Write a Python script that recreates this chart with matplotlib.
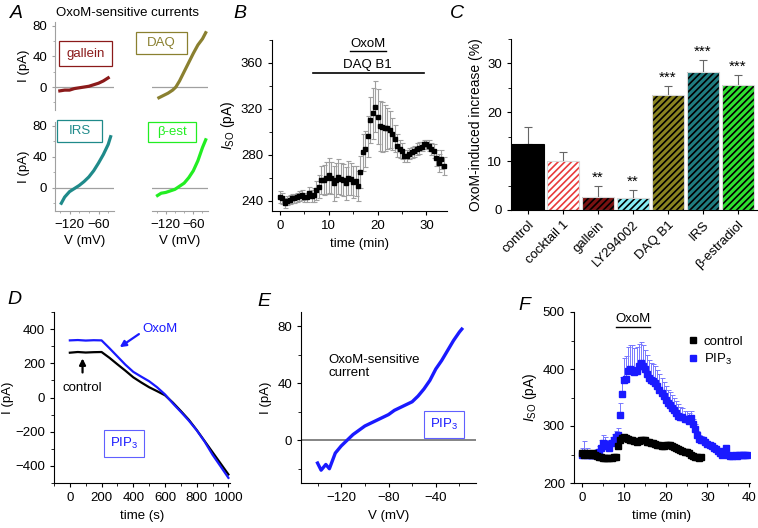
import numpy as np
import matplotlib
matplotlib.use('Agg')
import matplotlib.pyplot as plt
from matplotlib.ticker import MultipleLocator

plt.rcParams['font.family'] = ['Liberation Sans', 'DejaVu Sans']
plt.rcParams['mathtext.fontset'] = 'custom'
plt.rcParams['mathtext.rm'] = 'Liberation Sans'
plt.rcParams['mathtext.it'] = 'Liberation Sans:italic'
plt.rcParams['font.size'] = 9.5
plt.rcParams['axes.linewidth'] = 0.8
plt.rcParams['xtick.major.size'] = 3
plt.rcParams['ytick.major.size'] = 3
plt.rcParams['xtick.minor.size'] = 2
plt.rcParams['ytick.minor.size'] = 2
plt.rcParams['hatch.linewidth'] = 1.2

FS = 9.5

# ── panel A: OxoM-sensitive I-V traces ───────────────────────────────────────
GAL_V = [-140, -130, -120, -110, -100, -90, -80, -70, -60, -50, -40]
GAL_I = [-5, -4, -4, -2, -1, 0, 1, 3, 5, 8, 12]
DAQ_V = [-135, -125, -115, -105, -98, -90, -80, -70, -60, -50, -40, -33]
DAQ_I = [-14, -11, -8, -4, 0, 8, 20, 32, 44, 55, 63, 71]
IRS_V = [-137, -130, -120, -110, -100, -90, -80, -70, -60, -50, -40, -35]
IRS_I = [-20, -12, -5, -1, 3, 8, 14, 22, 32, 43, 56, 66]
BEST_V = [-138, -130, -120, -110, -100, -90, -80, -70, -60, -50, -40, -33]
BEST_I = [-10, -7, -6, -4, -2, 2, 6, 13, 22, 35, 52, 62]

# ── panel B: I_SO time course with DAQ B1 ────────────────────────────────────
B_T = [i * 0.5 for i in range(68)]
B_I = [243, 242, 238, 240, 241, 242, 242, 243, 244, 245, 243, 243, 247, 244, 245, 249,
       252, 258, 258, 260, 262, 260, 255, 258, 261, 259, 258, 255, 260, 259, 256, 257,
       253, 265, 282, 285, 296, 310, 316, 322, 313, 305, 304, 303, 303, 302, 298, 294,
       288, 285, 283, 279, 279, 281, 282, 283, 285, 286, 287, 289, 289, 288, 285, 283,
       277, 273, 276, 270]
B_ERR = [5, 5, 4, 4, 4, 4, 4, 4, 4, 4, 4, 4, 5, 5, 6, 8,
         10, 12, 13, 14, 15, 14, 15, 15, 15, 14, 14, 14, 15, 14, 14, 13,
         13, 14, 16, 16, 18, 20, 22, 22, 24, 22, 22, 20, 18, 16, 14, 12,
         10, 8, 7, 5, 5, 5, 5, 5, 5, 5, 4, 4, 4, 5, 5, 6,
         7, 8, 8, 8]

# ── panel C: OxoM-induced increase ───────────────────────────────────────────
C_LABELS = ['control', 'cocktail 1', 'gallein', 'LY294002', 'DAQ B1', 'IRS', 'β-estradiol']
C_MEAN = [13.5, 10.1, 2.6, 2.4, 23.5, 28.3, 25.5]
C_ERR = [3.4, 1.8, 2.4, 1.7, 1.9, 2.5, 2.2]
C_STARS = ['', '', '**', '**', '***', '***', '***']
C_FACE = ['black', 'white', '#7a1212', '#86eef6', '#8a8420', '#1f7c80', '#2fe02f']
C_HATCH = ['', '/////', '/////', '/////', '/////', '/////', '/////']
C_HCOL = ['black', '#e83a3a', 'black', 'black', 'black', 'black', 'black']

# ── panel D: ramp currents with PIP3 ─────────────────────────────────────────
D_T = [0, 50, 100, 150, 200, 250, 300, 350, 400, 450, 500, 550, 600, 650, 700,
       750, 800, 850, 900, 950, 1000]
D_CTRL = [262, 266, 263, 265, 266, 232, 194, 157, 118, 88, 60, 37, 13, -30, -79,
          -130, -190, -255, -320, -385, -450]
D_OXOM = [334, 336, 333, 335, 334, 288, 240, 192, 150, 122, 95, 60, 18, -35, -84,
          -135, -192, -258, -335, -402, -470]

# ── panel E: OxoM-sensitive current with PIP3 ────────────────────────────────
E_V = [-140, -137, -133, -130, -125, -120, -115, -110, -105, -100, -95, -90, -85, -80,
       -75, -70, -65, -60, -55, -50, -45, -40, -35, -30, -25, -20, -18]
E_I = [-16, -21, -17, -20, -9, -4, 0, 4, 7, 10, 12, 14, 16, 18, 21, 23, 25, 27, 31,
       36, 42, 50, 56, 63, 70, 76, 78]

# ── panel F: I_SO time course, control vs PIP3 ───────────────────────────────
F_CT = [i * 0.5 for i in range(58)]
F_CI = [252, 250, 252, 251, 250, 252, 250, 248, 245, 245, 244, 244, 244, 244, 244, 245,
        246, 265, 275, 279, 280, 279, 278, 275, 275, 274, 272, 273, 275, 276, 275, 272,
        272, 270, 270, 268, 267, 266, 265, 265, 266, 267, 266, 265, 263, 262, 260, 258,
        256, 255, 254, 252, 250, 247, 246, 245, 244, 245]
F_CE = [5] * 58
F_PT = [i * 0.5 for i in range(80)]
F_PI = [250, 253, 250, 249, 250, 250, 250, 252, 255, 262, 270, 268, 265, 262, 270, 276,
        280, 285, 320, 356, 381, 383, 397, 400, 398, 394, 396, 405, 411, 406, 400, 392,
        384, 381, 379, 376, 370, 364, 358, 352, 346, 340, 336, 332, 328, 323, 318, 316,
        315, 313, 312, 308, 314, 303, 295, 284, 278, 276, 275, 272, 268, 266, 265, 262,
        259, 256, 253, 250, 256, 261, 250, 248, 248, 249, 248, 250, 249, 250, 249, 250]
F_PE = [12, 20, 12, 8, 8, 8, 8, 8, 10, 14, 15, 12, 10, 10, 10, 10,
        12, 12, 20, 30, 38, 40, 42, 42, 44, 42, 42, 38, 36, 36, 34, 32,
        32, 30, 30, 30, 28, 28, 26, 25, 25, 24, 24, 22, 22, 20, 20, 18,
        16, 14, 14, 14, 12, 10, 8, 8, 6, 6, 6, 5, 5, 5, 5, 5,
        5, 5, 5, 5, 5, 5, 5, 5, 5, 5, 5, 5, 5, 5, 5, 5]

GREY = '#a0a0a0'
BLUE = '#1a1aff'
fig = plt.figure(figsize=(7.58, 5.28), dpi=100)
W, H = 758, 528


def box(x0, y0, x1, y1):
    """Axes rect from pixel corners (top-left origin)."""
    return [x0 / W, 1 - y1 / H, (x1 - x0) / W, (y1 - y0) / H]


def style(ax):
    for s in ['top', 'right']:
        ax.spines[s].set_visible(False)
    ax.tick_params(direction='out', labelsize=FS)


def panel_letter(x, y, s):
    fig.text(x / W, 1 - y / H, s, fontsize=14, style='italic', va='center')


# ---------------- A ----------------
a_traces = [
    (box(55, 22, 114, 110), GAL_V, GAL_I, '#8b1a1a', 'gallein', True, False, (0.06, 0.50, 0.97, 0.78)),
    (box(152, 22, 208, 110), DAQ_V, DAQ_I, '#8a8030', 'DAQ', False, False, (-0.28, 0.64, 0.62, 0.89)),
    (box(55, 122, 114, 211), IRS_V, IRS_I, '#1f8a8a', 'IRS', True, True, (0.03, 0.77, 0.80, 1.02)),
    (box(152, 122, 208, 211), BEST_V, BEST_I, '#22ee22', 'β-est', False, True, (-0.08, 0.77, 0.78, 1.0)),
]
for rect, vv, ii, col, lab, showy, showx, bx in a_traces:
    ax = fig.add_axes(rect)
    ax.plot(vv, ii, color=col, lw=2.3)
    ax.axhline(0, color=GREY, lw=0.9, zorder=0)
    ax.set_xlim(-150, -28)
    ax.set_ylim(-30, 85)
    for s in ['top', 'right']:
        ax.spines[s].set_visible(False)
    ax.spines['left'].set_color(GREY)
    ax.spines['bottom'].set_color(GREY)
    ax.spines['left'].set_visible(showy)
    ax.spines['bottom'].set_visible(showx)
    ax.tick_params(colors=GREY, labelcolor='black', labelsize=FS, length=2)
    ax.set_xticks([-120, -60])
    ax.xaxis.set_minor_locator(MultipleLocator(20))
    ax.set_yticks([0, 40, 80])
    ax.yaxis.set_minor_locator(MultipleLocator(20))
    ax.tick_params(which='minor', colors=GREY, length=1.5)
    if showy:
        ax.set_ylabel('I (pA)', fontsize=FS, labelpad=2)
    else:
        ax.tick_params(axis='y', which='both', left=False, labelleft=False)
    if showx:
        ax.set_xticklabels(['\u2212120', '\u221260'])
        ax.set_xlabel('V (mV)', fontsize=FS, labelpad=3)
    else:
        ax.tick_params(axis='x', which='both', bottom=False, labelbottom=False)
    x0, y0, x1, y1 = bx
    ax.add_patch(plt.Rectangle((x0, y0), x1 - x0, y1 - y0, transform=ax.transAxes,
                               fill=False, edgecolor=col, lw=0.9, clip_on=False))
    ax.text((x0 + x1) / 2, (y0 + y1) / 2, lab, transform=ax.transAxes, color=col,
            ha='center', va='center', fontsize=FS)
fig.text(127 / W, 1 - 13 / H, 'OxoM-sensitive currents', ha='center', va='center', fontsize=FS)
panel_letter(10, 13, 'A')

# ---------------- B ----------------
axB = fig.add_axes(box(272, 40, 447, 211))
style(axB)
axB.errorbar(B_T, B_I, yerr=B_ERR, fmt='s', color='black', ms=3.3, ecolor=GREY,
             elinewidth=0.8, capsize=1.8, capthick=0.8)
axB.set_xlim(-1.6, 34.2)
axB.set_ylim(231, 380)
axB.set_xticks([0, 10, 20, 30])
axB.xaxis.set_minor_locator(MultipleLocator(5))
axB.set_yticks([240, 280, 320, 360])
axB.yaxis.set_minor_locator(MultipleLocator(20))
axB.set_xlabel('time (min)', fontsize=FS)
axB.set_ylabel(r'$I_{\rm SO}$ (pA)', fontsize=FS + 0.5, labelpad=3)
axB.plot([14.3, 21.8], [370, 370], color='black', lw=1.0, clip_on=False)
axB.text(18.0, 371, 'OxoM', ha='center', va='bottom', fontsize=FS)
axB.plot([6.8, 29.4], [351, 351], color='black', lw=1.2, clip_on=False)
axB.text(18.0, 353, 'DAQ B1', ha='center', va='bottom', fontsize=FS)
panel_letter(233, 13, 'B')

# ---------------- C ----------------
axC = fig.add_axes(box(511, 39, 757, 210))
style(axC)
xc = np.arange(len(C_LABELS))
for i in range(len(C_LABELS)):
    axC.bar(xc[i], C_MEAN[i], width=0.9, color=C_FACE[i], hatch=C_HATCH[i],
            edgecolor=C_HCOL[i], lw=0, zorder=2)
    axC.bar(xc[i], C_MEAN[i], width=0.9, fill=False, edgecolor='#d8d8d8' if i else 'black',
            lw=0.8, zorder=3)
    axC.errorbar(xc[i], C_MEAN[i], yerr=[[0], [C_ERR[i]]], fmt='none', ecolor='#666666',
                 elinewidth=0.8, capsize=3, capthick=0.8, zorder=1)
    if C_STARS[i]:
        axC.text(xc[i], C_MEAN[i] + C_ERR[i] + 0.2, C_STARS[i], ha='center', va='bottom',
                 fontsize=11)
axC.set_xlim(-0.49, 6.55)
axC.set_ylim(0, 35)
axC.set_yticks([0, 10, 20, 30])
axC.yaxis.set_minor_locator(MultipleLocator(5))
axC.set_xticks(xc)
axC.set_xticklabels(C_LABELS, rotation=45, ha='right', rotation_mode='anchor', fontsize=FS)
axC.set_ylabel('OxoM-induced increase (%)', fontsize=10, labelpad=3)
panel_letter(450, 13, 'C')

# ---------------- D ----------------
axD = fig.add_axes(box(54, 312, 230, 483))
style(axD)
axD.plot(D_T, D_CTRL, color='black', lw=1.6)
axD.plot(D_T, D_OXOM, color=BLUE, lw=1.6)
axD.set_xlim(-100, 1010)
axD.set_ylim(-500, 500)
axD.set_xticks([0, 200, 400, 600, 800, 1000])
axD.xaxis.set_minor_locator(MultipleLocator(100))
axD.set_yticks([-400, -200, 0, 200, 400])
axD.set_yticklabels(['\u2212400', '\u2212200', '0', '200', '400'])
axD.yaxis.set_minor_locator(MultipleLocator(100))
axD.set_xlabel('time (s)', fontsize=FS)
axD.set_ylabel('I (pA)', fontsize=FS, labelpad=1)
axD.annotate('', xy=(300, 285), xytext=(450, 380),
             arrowprops=dict(arrowstyle='-|>', color=BLUE, lw=1.6, mutation_scale=9))
axD.text(460, 400, 'OxoM', color=BLUE, fontsize=FS, va='center')
axD.annotate('', xy=(80, 245), xytext=(80, 130),
             arrowprops=dict(arrowstyle='-|>', color='black', lw=1.6, mutation_scale=9))
axD.text(80, 55, 'control', ha='center', va='center', fontsize=FS)
axD.text(340, -270, r'PIP$_3$', color=BLUE, ha='center', va='center', fontsize=FS,
         bbox=dict(boxstyle='square,pad=0.45', fc='white', ec='#6060ff', lw=0.8))
panel_letter(7, 300, 'D')

# ---------------- E ----------------
axE = fig.add_axes(box(301, 312, 476, 483))
style(axE)
axE.axhline(0, color='#707070', lw=1.2, zorder=0)
axE.plot(E_V, E_I, color=BLUE, lw=2.4)
axE.set_xlim(-154, -6)
axE.set_ylim(-30, 90)
axE.set_xticks([-120, -80, -40])
axE.set_xticklabels(['\u2212120', '\u221280', '\u221240'])
axE.xaxis.set_minor_locator(MultipleLocator(20))
axE.set_yticks([0, 40, 80])
axE.yaxis.set_minor_locator(MultipleLocator(20))
axE.set_xlabel('V (mV)', fontsize=FS)
axE.set_ylabel('I (pA)', fontsize=FS, labelpad=4)
axE.text(-131, 52, 'OxoM-sensitive\ncurrent', ha='left', va='center', fontsize=FS,
         linespacing=1.1)
axE.text(-33, 11, r'PIP$_3$', color=BLUE, ha='center', va='center', fontsize=FS,
         bbox=dict(boxstyle='square,pad=0.45', fc='white', ec='#6060ff', lw=0.8))
panel_letter(257, 302, 'E')

# ---------------- F ----------------
axF = fig.add_axes(box(574, 312, 750, 483))
style(axF)
axF.errorbar(F_PT, F_PI, yerr=[[0] * len(F_PE), F_PE], fmt='none', ecolor='#7878ff',
             elinewidth=0.7, capsize=1.8, capthick=0.7, zorder=1)
axF.errorbar(F_CT, F_CI, yerr=[F_CE, [0] * len(F_CE)], fmt='none', ecolor=GREY,
             elinewidth=0.7, capsize=1.8, capthick=0.7, zorder=1)
axF.plot(F_CT, F_CI, 's', color='black', ms=3.8, label='control', zorder=3)
axF.plot(F_PT, F_PI, 's', color=BLUE, ms=3.8, label=r'PIP$_3$', zorder=2)
axF.set_xlim(-2, 40.2)
axF.set_ylim(200, 500)
axF.set_xticks([0, 10, 20, 30, 40])
axF.xaxis.set_minor_locator(MultipleLocator(5))
axF.set_yticks([200, 300, 400, 500])
axF.yaxis.set_minor_locator(MultipleLocator(50))
axF.set_xlabel('time (min)', fontsize=FS)
axF.set_ylabel(r'$I_{\rm SO}$ (pA)', fontsize=FS + 0.5, labelpad=3)
axF.plot([8, 16.3], [474, 474], color='black', lw=1.0)
axF.text(12.2, 478, 'OxoM', ha='center', va='bottom', fontsize=FS)
axF.legend(loc='upper right', bbox_to_anchor=(1.03, 0.93), frameon=False, fontsize=FS,
           handlelength=0.6, handletextpad=0.5, labelspacing=0.3, markerscale=1.0)
panel_letter(518, 305, 'F')

fig.savefig('out.png', dpi=100)
